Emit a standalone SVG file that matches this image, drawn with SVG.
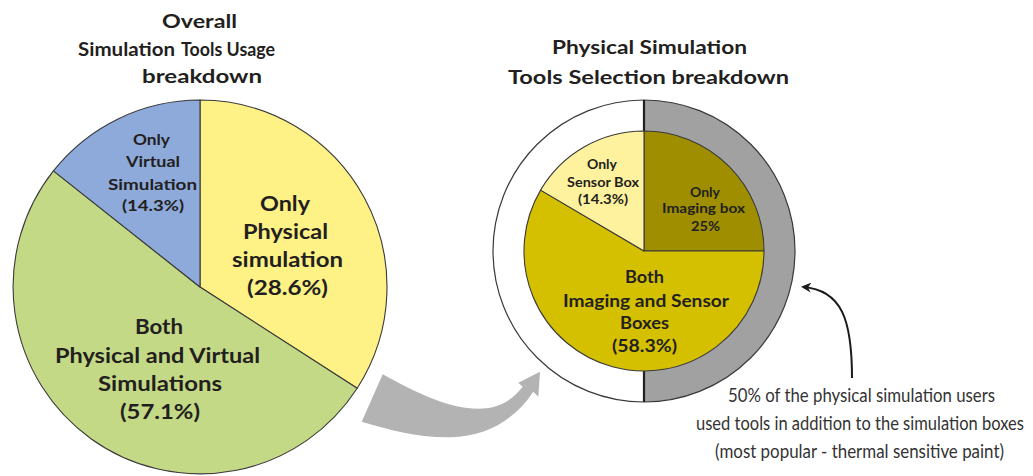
<svg xmlns="http://www.w3.org/2000/svg" width="1033" height="476" viewBox="0 0 1033 476">
  <style>
    .title { font-family: Lato, "Open Sans", "Liberation Sans", sans-serif; font-weight: 700; font-size: 19.5px; fill: #231f20; }
    .lbl-s { font-family: Lato, "Open Sans", "Liberation Sans", sans-serif; font-weight: 700; font-size: 15.5px; fill: #231f20; }
    .lbl-m { font-family: Lato, "Open Sans", "Liberation Sans", sans-serif; font-weight: 700; font-size: 20px; fill: #231f20; }
    .lbl-xs { font-family: Lato, "Open Sans", "Liberation Sans", sans-serif; font-weight: 700; font-size: 13px; fill: #231f20; }
    .lbl-r { font-family: Lato, "Open Sans", "Liberation Sans", sans-serif; font-weight: 700; font-size: 16.5px; fill: #231f20; }
    .note { font-family: Lato, "Open Sans", "Liberation Sans", sans-serif; font-weight: 400; font-size: 19px; fill: #333333; }
    .slice { stroke: #3a3a3a; stroke-width: 1.1; stroke-linejoin: round; }
  </style>
  <defs>
    <marker id="head" viewBox="0 0 10 10" refX="8" refY="5" markerWidth="5" markerHeight="5" orient="auto-start-reverse">
      <path d="M0,0 L10,5 L0,10 L3,5 Z" fill="#1a1a1a"/>
    </marker>
  </defs>

  <!-- Left chart title -->
  <g id="title-overall">
    <text class="title" x="162" y="28" textLength="75" lengthAdjust="spacingAndGlyphs">Overall</text>
    <text class="title" x="78" y="56" textLength="97" lengthAdjust="spacingAndGlyphs">Simulation</text>
    <text class="title" x="181" y="56" textLength="94" lengthAdjust="spacingAndGlyphs">Tools Usage</text>
    <text class="title" x="142" y="83" textLength="120" lengthAdjust="spacingAndGlyphs">breakdown</text>
  </g>

  <!-- Right chart title -->
  <g id="title-physical">
    <text class="title" x="552" y="54" textLength="195" lengthAdjust="spacingAndGlyphs">Physical Simulation</text>
    <text class="title" x="508" y="84" textLength="281" lengthAdjust="spacingAndGlyphs">Tools Selection breakdown</text>
  </g>

  <!-- Overall usage pie: centre (200,287), r 187 -->
  <g id="slice-only-physical">
    <path class="slice" d="M200,287 L200,100 A187,187 0 0 1 357.2,388.3 Z" fill="#fef185"/>
    <text class="lbl-m" x="260" y="211" textLength="50" lengthAdjust="spacingAndGlyphs">Only</text>
    <text class="lbl-m" x="243" y="239" textLength="85" lengthAdjust="spacingAndGlyphs">Physical</text>
    <text class="lbl-m" x="232" y="267" textLength="111" lengthAdjust="spacingAndGlyphs">simulation</text>
    <text class="lbl-m" x="247" y="295" textLength="81" lengthAdjust="spacingAndGlyphs">(28.6%)</text>
  </g>
  <g id="slice-both-sim">
    <path class="slice" d="M200,287 L357.2,388.3 A187,187 0 1 1 53.4,170.9 Z" fill="#c4d985"/>
    <text class="lbl-m" x="135" y="334" textLength="48" lengthAdjust="spacingAndGlyphs">Both</text>
    <text class="lbl-m" x="55" y="363" textLength="205" lengthAdjust="spacingAndGlyphs">Physical and Virtual</text>
    <text class="lbl-m" x="98" y="391" textLength="124" lengthAdjust="spacingAndGlyphs">Simulations</text>
    <text class="lbl-m" x="120" y="419" textLength="80" lengthAdjust="spacingAndGlyphs">(57.1%)</text>
  </g>
  <g id="slice-only-virtual">
    <path class="slice" d="M200,287 L53.4,170.9 A187,187 0 0 1 200,100 Z" fill="#8eaadb"/>
    <text class="lbl-s" x="133" y="145" textLength="37" lengthAdjust="spacingAndGlyphs">Only</text>
    <text class="lbl-s" x="126" y="167" textLength="54" lengthAdjust="spacingAndGlyphs">Virtual</text>
    <text class="lbl-s" x="108" y="190" textLength="89" lengthAdjust="spacingAndGlyphs">Simulation</text>
    <text class="lbl-s" x="122" y="211" textLength="62" lengthAdjust="spacingAndGlyphs">(14.3%)</text>
  </g>

  <!-- Physical tools pie with outer ring: centre (644,251) -->
  <g id="ring-additional">
    <path d="M644,100 A151,151 0 0 1 644,402 Z" fill="#a1a1a1"/>
    <circle cx="644" cy="251" r="151" fill="none" stroke="#3a3a3a" stroke-width="1.2"/>
    <line x1="644" y1="100" x2="644" y2="402" stroke="#231f20" stroke-width="2.2"/>
  </g>
  <g id="slice-only-imaging">
    <path class="slice" d="M644,251 L644,131 A120,120 0 0 1 764,251 Z" fill="#9e8e00"/>
    <text class="lbl-xs" x="690" y="197" textLength="30" lengthAdjust="spacingAndGlyphs">Only</text>
    <text class="lbl-xs" x="662" y="213" textLength="83" lengthAdjust="spacingAndGlyphs">Imaging box</text>
    <text class="lbl-xs" x="691" y="231" textLength="29" lengthAdjust="spacingAndGlyphs">25%</text>
  </g>
  <g id="slice-both-boxes">
    <path class="slice" d="M644,251 L764,251 A120,120 0 1 1 540.6,190.1 Z" fill="#d5c000"/>
    <text class="lbl-r" x="625" y="283" textLength="39" lengthAdjust="spacingAndGlyphs">Both</text>
    <text class="lbl-r" x="563" y="307" textLength="166" lengthAdjust="spacingAndGlyphs">Imaging and Sensor</text>
    <text class="lbl-r" x="620" y="329" textLength="49" lengthAdjust="spacingAndGlyphs">Boxes</text>
    <text class="lbl-r" x="612" y="352" textLength="65" lengthAdjust="spacingAndGlyphs">(58.3%)</text>
  </g>
  <g id="slice-only-sensor">
    <path class="slice" d="M644,251 L540.6,190.1 A120,120 0 0 1 644,131 Z" fill="#fff29e"/>
    <text class="lbl-xs" x="587" y="169" textLength="30" lengthAdjust="spacingAndGlyphs">Only</text>
    <text class="lbl-xs" x="567" y="187" textLength="72" lengthAdjust="spacingAndGlyphs">Sensor Box</text>
    <text class="lbl-xs" x="578" y="204" textLength="50" lengthAdjust="spacingAndGlyphs">(14.3%)</text>
  </g>

  <!-- Annotation text, set condensed -->
  <g id="note-additional-tools">
    <text class="note" transform="translate(728,402) scale(0.82,1)" textLength="325.6" lengthAdjust="spacingAndGlyphs">50% of the physical simulation users</text>
    <text class="note" transform="translate(696,430) scale(0.82,1)" textLength="400" lengthAdjust="spacingAndGlyphs">used tools in addition to the simulation boxes</text>
    <text class="note" transform="translate(715,458) scale(0.82,1)" textLength="352.4" lengthAdjust="spacingAndGlyphs">(most popular - thermal sensitive paint)</text>
  </g>

  <!-- Connectors -->
  <g id="connectors">
    <!-- broad arrow from the physical slice to its breakdown -->
    <path d="M361.7,421.7 L382.7,374.3 C423.3,396.7 456.7,411.7 486.7,408.3 C503.3,406 513.3,398.3 522.7,386.7 L518.3,382.7 L540,371.7 L538.3,396.7 L533.3,391.7 C516.7,416.7 490,436.7 450,437.3 C416.7,437.7 390,430 361.7,421.7 Z" fill="#b3b3b3"/>
    <!-- pointer from the note to the outer ring -->
    <path d="M852,378 C852,320 842,290 803,287" fill="none" stroke="#1a1a1a" stroke-width="2" marker-end="url(#head)"/>
  </g>
</svg>
